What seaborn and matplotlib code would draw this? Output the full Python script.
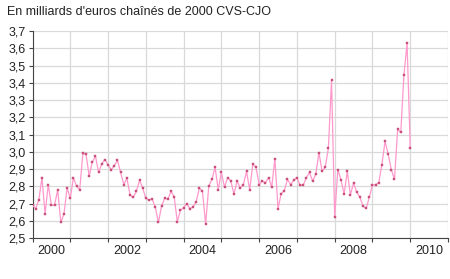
import numpy as np
import pandas as pd
import matplotlib
matplotlib.use("Agg")
import matplotlib.pyplot as plt
from matplotlib.ticker import FixedLocator, FixedFormatter
import seaborn as sns

# ---- data (monthly, Jan 2000 .. Jan 2010) ----
start_year = 2000
values = [
    2.69, 2.67, 2.72, 2.85, 2.64, 2.81, 2.69, 2.69, 2.78, 2.59, 2.64, 2.79,
    2.73, 2.85, 2.80, 2.78, 2.99, 2.985, 2.86, 2.94, 2.975, 2.88, 2.93, 2.955,
    2.925, 2.895, 2.92, 2.95, 2.88, 2.81, 2.845, 2.75, 2.735, 2.77, 2.835, 2.79,
    2.73, 2.72, 2.725, 2.68, 2.59, 2.685, 2.73, 2.725, 2.77, 2.74, 2.595, 2.66,
    2.675, 2.70, 2.67, 2.68, 2.71, 2.79, 2.77, 2.58, 2.80, 2.84, 2.91, 2.78,
    2.88, 2.795, 2.85, 2.83, 2.755, 2.83, 2.79, 2.81, 2.886, 2.78, 2.93, 2.91,
    2.81, 2.83, 2.82, 2.85, 2.795, 2.96, 2.67, 2.756, 2.775, 2.84, 2.81, 2.835,
    2.85, 2.806, 2.806, 2.85, 2.88, 2.83, 2.87, 2.995, 2.887, 2.91, 3.02, 3.414,
    2.62, 2.897, 2.837, 2.754, 2.887, 2.75, 2.818, 2.765, 2.738, 2.684, 2.672, 2.736,
    2.806, 2.81, 2.82, 2.926, 3.06, 2.986, 2.895, 2.84, 3.13, 3.112, 3.445, 3.63,
    3.023,
]
year_labels = ["2000", "2002", "2004", "2006", "2008", "2010"]
y_tick_values = [2.5, 2.6, 2.7, 2.8, 2.9, 3.0, 3.1, 3.2, 3.3, 3.4, 3.5, 3.6, 3.7]
y_tick_labels = ["2,5", "2,6", "2,7", "2,8", "2,9", "3,0", "3,1", "3,2", "3,3",
                 "3,4", "3,5", "3,6", "3,7"]
title = "En milliards d'euros chaînés de 2000 CVS-CJO"

dates = pd.date_range(f"{start_year}-01-01", periods=len(values), freq="MS")
df = pd.DataFrame({
    "t": dates.year + (dates.month - 1) / 12.0,
    "v": values,
})

sns.set_theme(style="white")
plt.rcParams["font.family"] = ["Liberation Sans", "DejaVu Sans"]

fig = plt.figure(figsize=(4.5, 2.79), dpi=100)
ax = fig.add_axes([32.5 / 450, 1 - 238 / 279, (448 - 32.5) / 450, (238 - 31) / 279])

grid_c = "#d9d9d9"
for yv in y_tick_values:
    ax.axhline(yv, color=grid_c, lw=0.9, zorder=0)
for yr in range(2000, 2012):
    ax.axvline(yr, color=grid_c, lw=0.9, zorder=0)

sns.lineplot(data=df, x="t", y="v", ax=ax, color="#ff99cc", lw=0.9,
             marker="s", markersize=1.8, markerfacecolor="#c8507a",
             markeredgecolor="#c8507a", markeredgewidth=0.3, zorder=3)

ax.set_xlim(2000, 2011)
ax.set_ylim(2.5, 3.7)
ax.set_xlabel("")
ax.set_ylabel("")

ax.yaxis.set_major_locator(FixedLocator(y_tick_values))
ax.yaxis.set_major_formatter(FixedFormatter(y_tick_labels))
label_pos = [int(s) + 0.5 for s in year_labels]
ax.xaxis.set_major_locator(FixedLocator(label_pos))
ax.xaxis.set_major_formatter(FixedFormatter(year_labels))
ax.xaxis.set_minor_locator(FixedLocator(list(range(2000, 2012))))

ax.tick_params(axis="y", which="major", left=True, length=3, width=0.8,
               color="#444444", labelsize=9, labelcolor="#222222", pad=2)
ax.tick_params(axis="x", which="major", bottom=False, length=0,
               labelsize=9, labelcolor="#222222", pad=5)
ax.tick_params(axis="x", which="minor", bottom=True, length=3, width=0.8,
               color="#444444")

for s in ["top", "right"]:
    ax.spines[s].set_visible(False)
for s in ["left", "bottom"]:
    ax.spines[s].set_color("#444444")
    ax.spines[s].set_linewidth(0.8)

fig.text(7 / 450, 1 - 12 / 279, title, fontsize=9, color="#222222",
         ha="left", va="center")

fig.savefig("out.png", dpi=100, facecolor="white")
